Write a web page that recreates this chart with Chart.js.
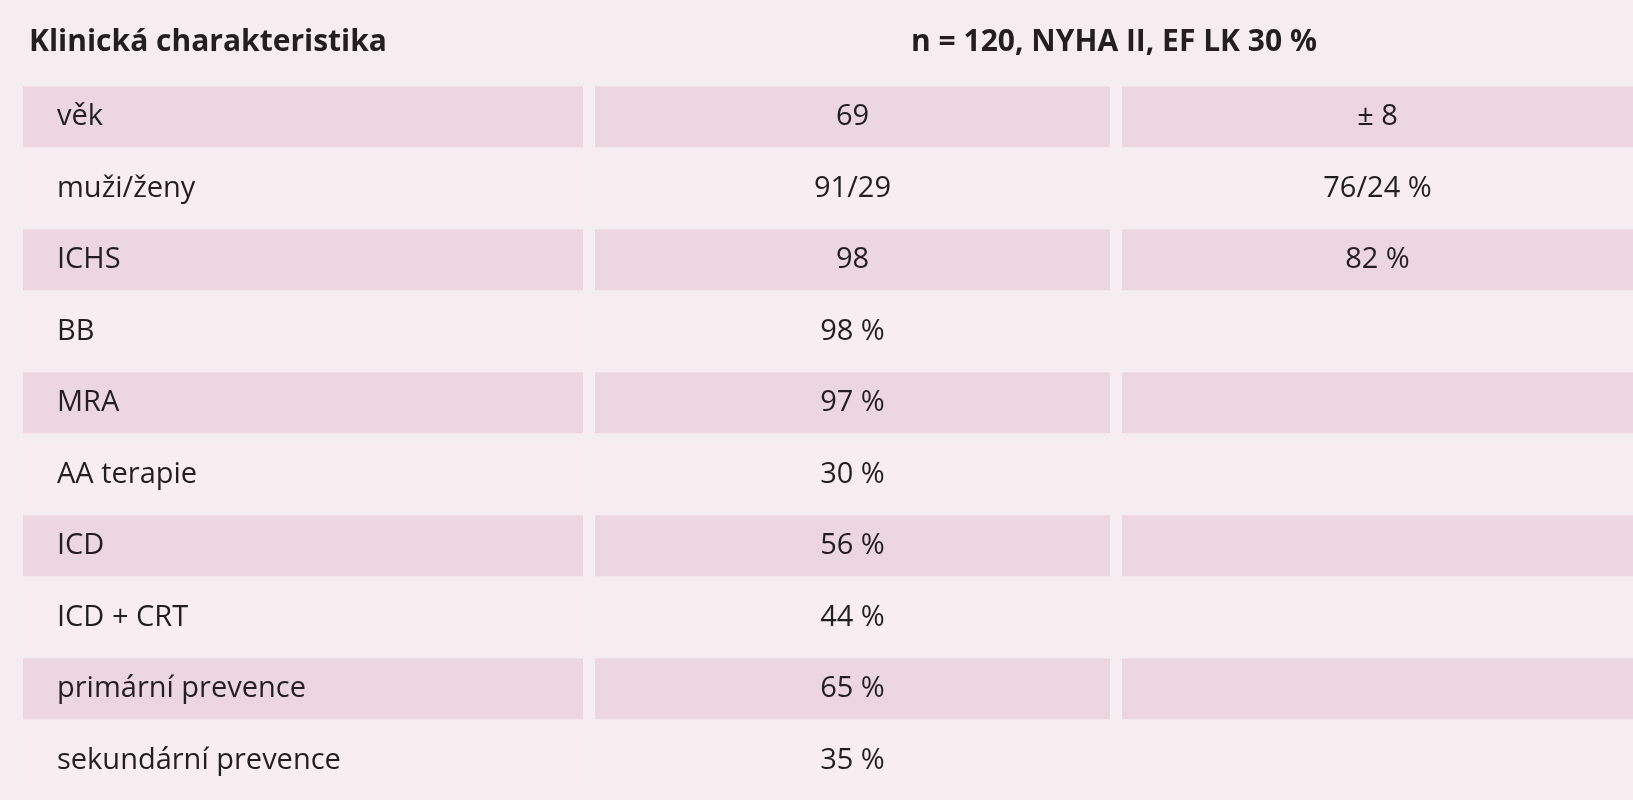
<!DOCTYPE html>
<html><head><meta charset="utf-8">
<script src="https://cdn.jsdelivr.net/npm/chart.js@4/dist/chart.umd.min.js"></script>
<style>html,body{margin:0;padding:0;background:#f6edf1;}#w{width:1633px;height:800px;}</style>
</head><body><div id="w"><canvas id="c"></canvas></div>
<script>
const rowLabels = ["věk","muži/ženy","ICHS","BB","MRA","AA terapie","ICD","ICD + CRT","primární prevence","sekundární prevence"];
const col2Values = ["69","91/29","98","98 %","97 %","30 %","56 %","44 %","65 %","35 %"];
const col3Values = ["± 8","76/24 %","82 %","","","","","","",""];
const headerLeft = "Klinická charakteristika";
const headerRight = "n = 120, NYHA II, EF LK 30 %";

const colEdges = [[23,583],[595,1110],[1122,1633]];
const rowColors = rowLabels.map((_,i)=> i%2===0 ? "#ecd7e0" : "#f8eef2");
const FONT = '"Open Sans", "Liberation Sans", sans-serif';

const datasets = colEdges.map(e => ({
  data: rowLabels.map(()=> [e[0], e[1]]),
  backgroundColor: rowColors,
  borderWidth: 0,
  barPercentage: 0.85,
  categoryPercentage: 1
}));

const textPlugin = {
  id:'txt',
  afterDatasetsDraw(chart){
    const ctx = chart.ctx, x = chart.scales.x, y = chart.scales.y;
    ctx.save();
    ctx.fillStyle = "#231f20";
    ctx.textBaseline = "middle";
    ctx.font = "bold 30px " + FONT;
    ctx.textAlign = "left";
    ctx.fillText(headerLeft, x.getPixelForValue(29), 42);
    ctx.textAlign = "center";
    ctx.fillText(headerRight, x.getPixelForValue(1114), 42);
    ctx.font = "29px " + FONT;
    rowLabels.forEach((l,i)=>{
      const py = y.getPixelForValue(i);
      ctx.textAlign = "left";
      ctx.fillText(l, x.getPixelForValue(57), py);
      ctx.textAlign = "center";
      ctx.fillText(col2Values[i], x.getPixelForValue((colEdges[1][0]+colEdges[1][1])/2), py);
      ctx.fillText(col3Values[i], x.getPixelForValue((colEdges[2][0]+colEdges[2][1])/2), py);
    });
    ctx.restore();
  }
};

new Chart(document.getElementById('c'), {
  type:'bar',
  data:{ labels: rowLabels, datasets },
  options:{
    indexAxis:'y', responsive:true, maintainAspectRatio:false, animation:false,
    layout:{ padding:{ top:81, bottom:4, left:0, right:0 } },
    plugins:{ legend:{display:false}, tooltip:{enabled:false} },
    scales:{
      x:{ type:'linear', min:0, max:1633, display:false },
      y:{ display:false, stacked:true }
    }
  },
  plugins:[textPlugin]
});
</script></body></html>
